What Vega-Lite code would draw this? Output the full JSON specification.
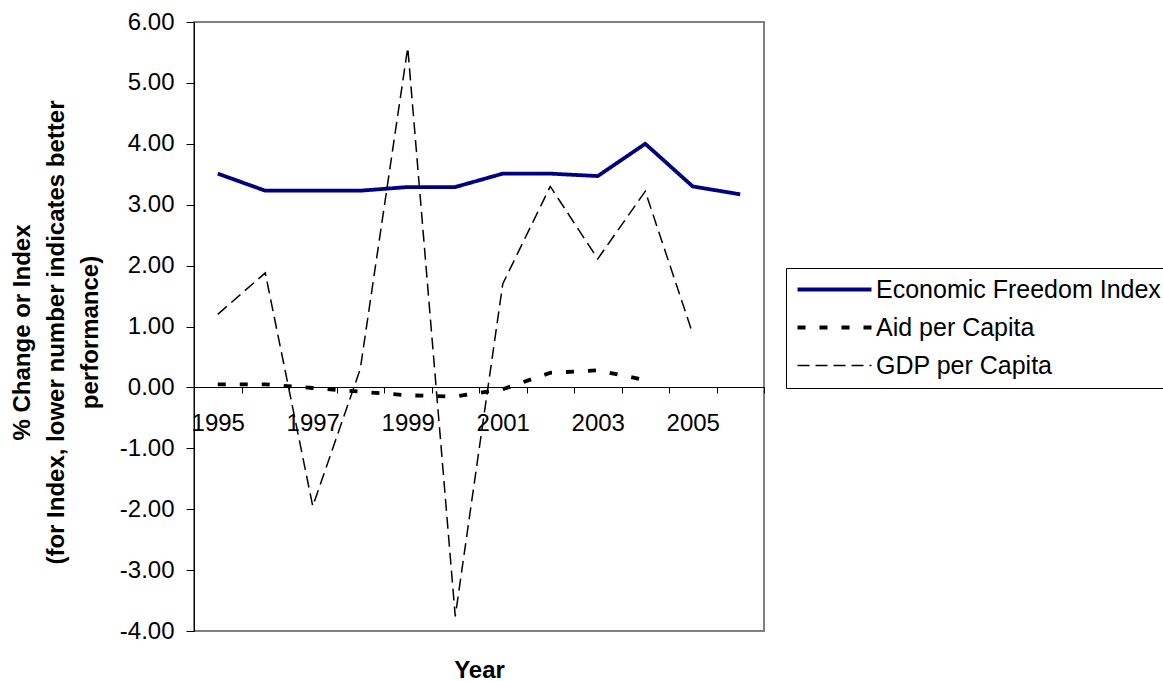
{
  "$schema": "https://vega.github.io/schema/vega-lite/v6.json",
  "width": 570,
  "height": 609,
  "autosize": {"type": "none"},
  "padding": {"left": 194, "top": 22, "right": 399, "bottom": 50},
  "background": "white",
  "config": {"font": "Liberation Sans", "view": {"stroke": "#808080", "strokeWidth": 2}},
  "data": {"values": [
    {"year": 1995, "series": "Economic Freedom Index", "value": 3.51},
    {"year": 1996, "series": "Economic Freedom Index", "value": 3.23},
    {"year": 1997, "series": "Economic Freedom Index", "value": 3.23},
    {"year": 1998, "series": "Economic Freedom Index", "value": 3.23},
    {"year": 1999, "series": "Economic Freedom Index", "value": 3.29},
    {"year": 2000, "series": "Economic Freedom Index", "value": 3.29},
    {"year": 2001, "series": "Economic Freedom Index", "value": 3.51},
    {"year": 2002, "series": "Economic Freedom Index", "value": 3.51},
    {"year": 2003, "series": "Economic Freedom Index", "value": 3.47},
    {"year": 2004, "series": "Economic Freedom Index", "value": 4.00},
    {"year": 2005, "series": "Economic Freedom Index", "value": 3.30},
    {"year": 2006, "series": "Economic Freedom Index", "value": 3.17},
    {"year": 1995, "series": "Aid per Capita", "value": 0.05},
    {"year": 1996, "series": "Aid per Capita", "value": 0.05},
    {"year": 1997, "series": "Aid per Capita", "value": -0.01},
    {"year": 1998, "series": "Aid per Capita", "value": -0.07},
    {"year": 1999, "series": "Aid per Capita", "value": -0.13},
    {"year": 2000, "series": "Aid per Capita", "value": -0.15},
    {"year": 2001, "series": "Aid per Capita", "value": -0.03},
    {"year": 2002, "series": "Aid per Capita", "value": 0.24},
    {"year": 2003, "series": "Aid per Capita", "value": 0.28},
    {"year": 2004, "series": "Aid per Capita", "value": 0.12},
    {"year": 1995, "series": "GDP per Capita", "value": 1.20},
    {"year": 1996, "series": "GDP per Capita", "value": 1.88},
    {"year": 1997, "series": "GDP per Capita", "value": -1.95},
    {"year": 1998, "series": "GDP per Capita", "value": 0.30},
    {"year": 1999, "series": "GDP per Capita", "value": 5.58},
    {"year": 2000, "series": "GDP per Capita", "value": -3.76},
    {"year": 2001, "series": "GDP per Capita", "value": 1.70},
    {"year": 2002, "series": "GDP per Capita", "value": 3.30},
    {"year": 2003, "series": "GDP per Capita", "value": 2.11},
    {"year": 2004, "series": "GDP per Capita", "value": 3.22},
    {"year": 2005, "series": "GDP per Capita", "value": 0.88}
  ]},
  "mark": {"type": "line", "strokeCap": "butt", "strokeJoin": "miter"},
  "encoding": {
    "x": {
      "field": "year", "type": "ordinal", "bandPosition": 0.5,
      "scale": {"type": "band", "paddingInner": 0, "paddingOuter": 0},
      "axis": {
        "title": "Year", "titleFontSize": 24, "titleFontWeight": "bold", "titleColor": "black",
        "titleY": 295, "titleBaseline": "bottom",
        "offset": -244, "tickBand": "extent", "labelAngle": 0,
        "labelExpr": "parseInt(datum.label) % 2 == 1 ? datum.label : ''",
        "labelOverlap": false, "labelFontSize": 24, "labelColor": "black", "labelPadding": 18,
        "tickSize": 6, "tickColor": "black", "domainColor": "black", "grid": false
      }
    },
    "y": {
      "field": "value", "type": "quantitative",
      "scale": {"domain": [-4, 6], "nice": false, "zero": false},
      "axis": {
        "title": ["% Change or Index", "(for Index, lower number indicates better", "performance)"],
        "titleFontSize": 24, "titleFontWeight": "bold", "titleColor": "black", "titleLineHeight": 34,
        "titleX": -172, "titleY": 310, "titleBaseline": "middle", "titleAlign": "center", "titleAngle": -90,
        "values": [-4, -3, -2, -1, 0, 1, 2, 3, 4, 5, 6], "format": ".2f",
        "labelExpr": "replace(datum.label, '\u2212', '-')",
        "labelFontSize": 24, "labelColor": "black", "labelPadding": 12,
        "tickSize": 8, "tickColor": "black", "domainColor": "black", "grid": false
      }
    },
    "color": {
      "field": "series", "type": "nominal",
      "scale": {"domain": ["Economic Freedom Index", "Aid per Capita", "GDP per Capita"], "range": ["#000080", "#000000", "#000000"]},
      "legend": {"title": null, "orient": "none", "legendX": 592, "legendY": 246, "strokeColor": "black", "fillColor": "white", "padding": 9, "symbolType": "M-4,0H4", "symbolSize": 342, "symbolOffset": 27, "labelFontSize": 25, "labelColor": "black", "labelOffset": 29, "rowPadding": 12, "labelLimit": 0,
        "encode": {"symbols": {"update": {"strokeWidth": {"signal": "datum.value === 'GDP per Capita' ? 1.5 : 3.8"}}}}}
    },
    "strokeDash": {
      "field": "series", "type": "nominal",
      "scale": {"domain": ["Economic Freedom Index", "Aid per Capita", "GDP per Capita"], "range": [[1, 0], [8, 14], [12, 6]]},
      "legend": {"title": null, "orient": "none", "legendX": 592, "legendY": 246, "strokeColor": "black", "fillColor": "white", "padding": 9, "symbolType": "M-4,0H4", "symbolSize": 342, "symbolOffset": 27, "labelFontSize": 25, "labelColor": "black", "labelOffset": 29, "rowPadding": 12, "labelLimit": 0,
        "encode": {"symbols": {"update": {"strokeWidth": {"signal": "datum.value === 'GDP per Capita' ? 1.5 : 3.8"}}}}}
    },
    "strokeWidth": {"condition": {"test": "datum.series === 'GDP per Capita'", "value": 1.5}, "value": 3.8}
  }
}
